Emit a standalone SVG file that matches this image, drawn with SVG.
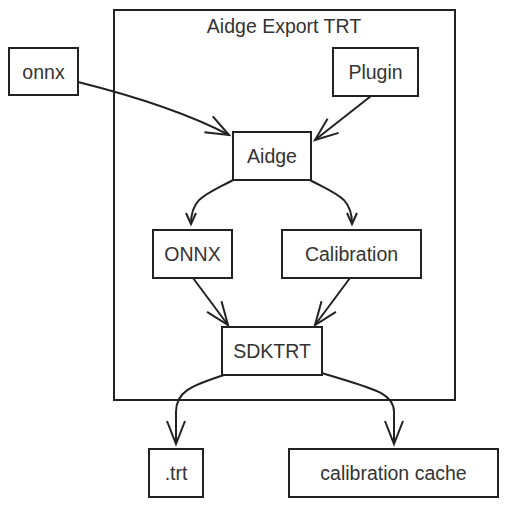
<svg xmlns="http://www.w3.org/2000/svg" width="507" height="507" viewBox="0 0 507 507">
<style>
.box{fill:#fff;stroke:#222;stroke-width:2}
.frame{fill:none;stroke:#222;stroke-width:2}
.lbl{font-family:"Liberation Sans",Arial,sans-serif;font-size:19.5px;fill:#333;text-anchor:middle}
.edge{fill:none;stroke:#222;stroke-width:2}
.big{marker-end:url(#ah)}
.small{marker-end:url(#as)}
</style>
<defs>
<marker id="ah" markerUnits="userSpaceOnUse" markerWidth="30" markerHeight="30" viewBox="-26 -13 30 26" refX="0" refY="0" orient="auto" overflow="visible">
<path d="M-23,-9 L0,0 L-23,9" fill="none" stroke="#222" stroke-width="2"/>
</marker>
<marker id="as" markerUnits="userSpaceOnUse" markerWidth="16" markerHeight="16" viewBox="-13 -8 16 16" refX="0" refY="0" orient="auto" overflow="visible">
<path d="M-11,-5 L0,0 L-11,5" fill="none" stroke="#222" stroke-width="2"/>
</marker>
</defs>
<g id="container">
<rect class="frame" x="114" y="10" width="341" height="390"/>
<text class="lbl" x="284" y="33">Aidge Export TRT</text>
</g>
<g id="connectors">
<path class="edge big" d="M78,82 C130,95 185,112 229,135"/>
<path class="edge big" d="M371,96 L315,140"/>
<path class="edge small" d="M233,180 C205,195 191,198 191,224"/>
<path class="edge small" d="M310,180 C338,195 352,198 352,224"/>
<path class="edge big" d="M193,278 L228,325"/>
<path class="edge big" d="M350,278 L315,325"/>
<path class="edge big" d="M224,375 C190,386 176,392 176,412 L176,444"/>
<path class="edge big" d="M322,373 C370,388 394,392 394,412 L394,444"/>
</g>
<g id="node-onnx"><rect class="box" x="9" y="48" width="69" height="47"/><text class="lbl" x="43.5" y="78.5">onnx</text></g>
<g id="node-plugin"><rect class="box" x="333" y="48" width="85" height="48"/><text class="lbl" x="375.5" y="79">Plugin</text></g>
<g id="node-aidge"><rect class="box" x="233" y="132" width="78" height="48"/><text class="lbl" x="272" y="163">Aidge</text></g>
<g id="node-ONNX"><rect class="box" x="153" y="230" width="79" height="48"/><text class="lbl" x="192.5" y="261">ONNX</text></g>
<g id="node-calibration"><rect class="box" x="282" y="230" width="139" height="48"/><text class="lbl" x="351.5" y="261">Calibration</text></g>
<g id="node-sdktrt"><rect class="box" x="222" y="327" width="100" height="48"/><text class="lbl" x="272" y="358">SDKTRT</text></g>
<g id="node-trt"><rect class="box" x="149" y="449" width="54" height="48"/><text class="lbl" x="176" y="480">.trt</text></g>
<g id="node-cache"><rect class="box" x="289" y="449" width="209" height="48"/><text class="lbl" x="393.5" y="480">calibration cache</text></g>
</svg>
